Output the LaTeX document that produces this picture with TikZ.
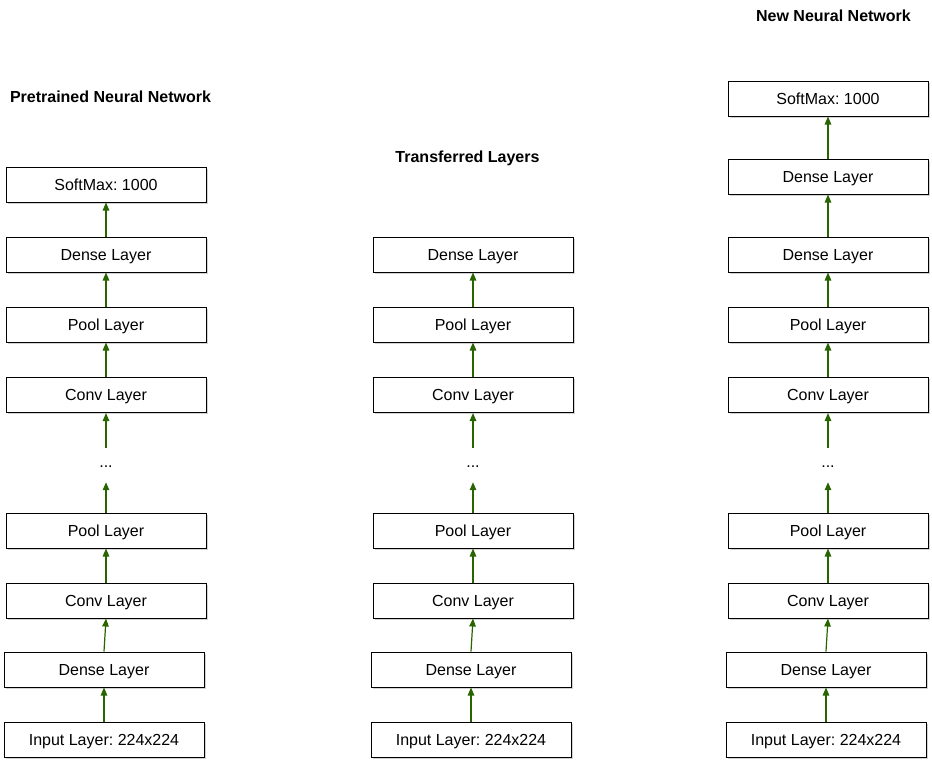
\documentclass[tikz,border=0pt]{standalone}
\usepackage{fontspec}
\setmainfont{Liberation Sans}
\frenchspacing
\usetikzlibrary{arrows.meta,shadows}
\definecolor{arrowgreen}{RGB}{40,100,0}
\begin{document}
\begin{tikzpicture}[x=1pt,y=-1pt,
  layer/.style={draw=black, line width=1pt, fill=white, minimum width=200pt,
    minimum height=35pt, inner sep=0pt, text height=11.5pt, text depth=0.5pt,
    font=\fontsize{16}{19}\selectfont,
    drop shadow={shadow xshift=1.5pt, shadow yshift=-1.5pt, opacity=0.35, fill=gray}},
  gap/.style={minimum width=200pt, minimum height=34pt, inner sep=0pt,
    font=\fontsize{16}{19}\selectfont},
  title/.style={font=\fontsize{16}{19}\selectfont\bfseries,
    text height=11.5pt, text depth=0.5pt, inner sep=0pt},
  flow/.style={draw=arrowgreen, line width=1.2pt,
    -{Triangle[length=8pt,width=6.5pt]}}]
\useasboundingbox (0,0) rectangle (932,763);

% titles
\node[title] (t1) at (110.5,97) {Pretrained Neural Network};
\node[title] (t2) at (467.5,157) {Transferred Layers};
\node[title] (t3) at (833.5,16) {New Neural Network};

% pretrained network
\node[layer] (a1) at (106,184.5) {SoftMax: 1000};
\node[layer] (a2) at (106,254.5) {Dense Layer};
\node[layer] (a3) at (106,324.5) {Pool Layer};
\node[layer] (a4) at (106,395) {Conv Layer};
\node[gap]   (a5) at (106,465) {\raisebox{-5pt}{...}};
\node[layer] (a6) at (106,530.5) {Pool Layer};
\node[layer] (a7) at (106,600.5) {Conv Layer};
\node[layer] (a8) at (104,669.5) {Dense Layer};
\node[layer] (a9) at (104,739.5) {Input Layer: 224x224};

% transferred layers
\node[layer] (b2) at (473,254.5) {Dense Layer};
\node[layer] (b3) at (473,324.5) {Pool Layer};
\node[layer] (b4) at (473,395) {Conv Layer};
\node[gap]   (b5) at (473,465) {\raisebox{-5pt}{...}};
\node[layer] (b6) at (473,530.5) {Pool Layer};
\node[layer] (b7) at (473,600.5) {Conv Layer};
\node[layer] (b8) at (471,669.5) {Dense Layer};
\node[layer] (b9) at (471,739.5) {Input Layer: 224x224};

% new network
\node[layer] (c0) at (828,98.5) {SoftMax: 1000};
\node[layer] (c1) at (828,176.5) {Dense Layer};
\node[layer] (c2) at (828,254.5) {Dense Layer};
\node[layer] (c3) at (828,324.5) {Pool Layer};
\node[layer] (c4) at (828,395) {Conv Layer};
\node[gap]   (c5) at (828,465) {\raisebox{-5pt}{...}};
\node[layer] (c6) at (828,530.5) {Pool Layer};
\node[layer] (c7) at (828,600.5) {Conv Layer};
\node[layer] (c8) at (826,669.5) {Dense Layer};
\node[layer] (c9) at (826,739.5) {Input Layer: 224x224};

% connectors
\foreach \lo/\hi in {a9/a8,a8/a7,a7/a6,a6/a5,a5/a4,a4/a3,a3/a2,a2/a1,
                     b9/b8,b8/b7,b7/b6,b6/b5,b5/b4,b4/b3,b3/b2,
                     c9/c8,c8/c7,c7/c6,c6/c5,c5/c4,c4/c3,c3/c2,c2/c1,c1/c0}
  \draw[flow] (\lo.north) -- (\hi.south);
\end{tikzpicture}
\end{document}
